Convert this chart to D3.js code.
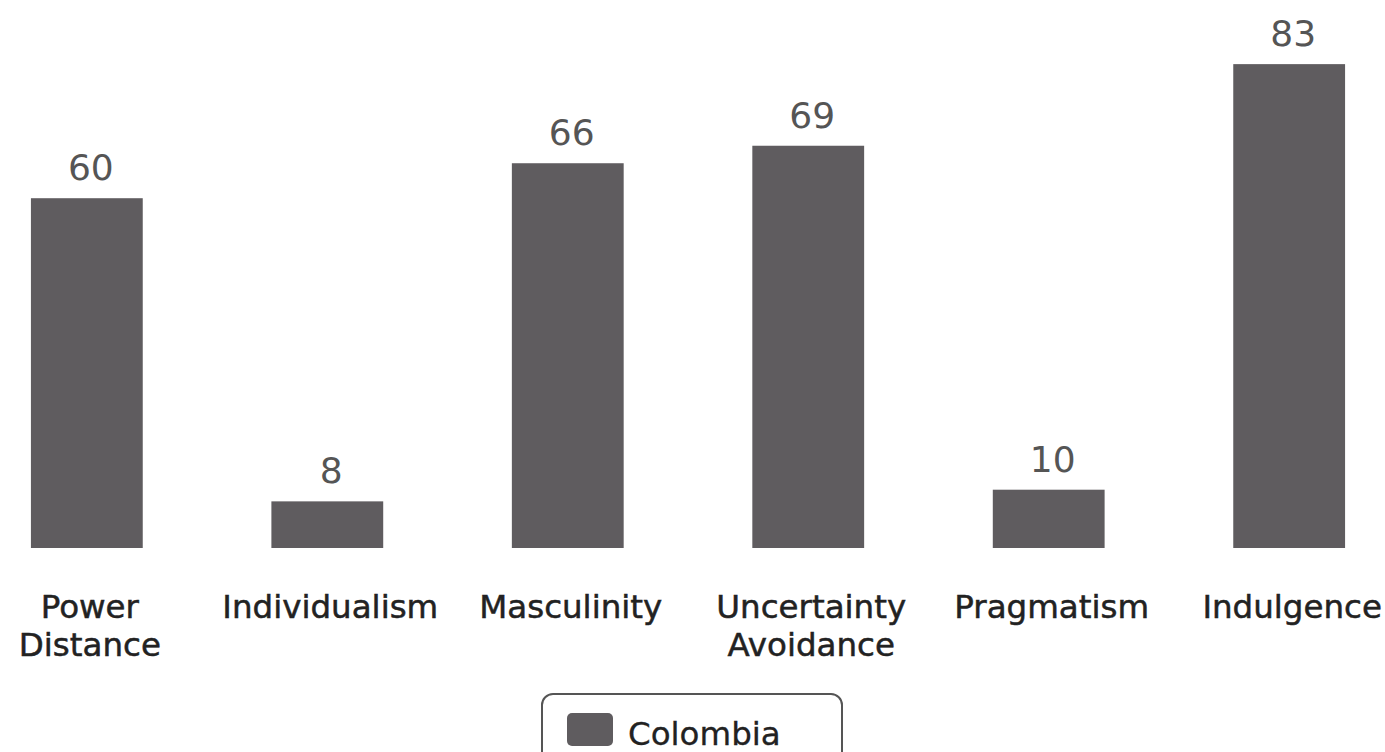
<!DOCTYPE html>
<html>
<head>
<meta charset="utf-8">
<script src="https://cdn.jsdelivr.net/npm/d3@7"></script>
<style>
  body { margin: 0; background: #fff; }
  svg { display: block; font-family: "DejaVu Sans", sans-serif; }
</style>
</head>
<body>
<script>
// data
var categories = ["Power Distance", "Individualism", "Masculinity", "Uncertainty Avoidance", "Pragmatism", "Indulgence"];
var labelLines = [["Power", "Distance"], ["Individualism"], ["Masculinity"], ["Uncertainty", "Avoidance"], ["Pragmatism"], ["Indulgence"]];
var colombia = [60, 8, 66, 69, 10, 83];
var seriesName = "Colombia";

var width = 1385, height = 752;

var svg = d3.select("body").append("svg")
    .attr("width", width)
    .attr("height", height);

var x = d3.scaleBand()
    .domain(categories)
    .range([-34, 1410])
    .paddingInner(0.535)
    .paddingOuter(0.27);

var y = d3.scaleLinear()
    .domain([0, 94])
    .range([548, 0]);

// bars
svg.selectAll(".bar")
    .data(colombia)
    .enter()
    .append("rect")
    .attr("class", "bar")
    .attr("x", function(d, i){ return x(categories[i]); })
    .attr("y", function(d){ return y(d); })
    .attr("width", x.bandwidth())
    .attr("height", function(d){ return y(0) - y(d); })
    .attr("fill", "#5f5c5f");

// value labels
svg.selectAll(".val")
    .data(colombia)
    .enter()
    .append("text")
    .attr("class", "val")
    .attr("x", function(d, i){ return x(categories[i]) + x.bandwidth() / 2 + 4; })
    .attr("y", function(d){ return y(d) - 18; })
    .attr("text-anchor", "middle")
    .attr("font-size", 36)
    .attr("fill", "#555")
    .text(function(d){ return d; });

// category labels
var cat = svg.selectAll(".cat")
    .data(categories)
    .enter()
    .append("text")
    .attr("class", "cat")
    .attr("text-anchor", "middle")
    .attr("font-size", 32.5)
    .attr("fill", "#222")
    .attr("stroke", "#222")
    .attr("stroke-width", 0.5)
    .attr("transform", function(d){ return "translate(" + (x(d) + x.bandwidth() / 2 + 3) + ",618)"; });

cat.selectAll("tspan")
    .data(function(d, i){ return labelLines[i]; })
    .enter()
    .append("tspan")
    .attr("x", 0)
    .attr("dy", function(d, i){ return i === 0 ? 0 : 38; })
    .text(function(d){ return d; });

// legend
var legend = svg.append("g").attr("class", "legend");
legend.append("rect")
    .attr("x", 542)
    .attr("y", 694)
    .attr("width", 300)
    .attr("height", 90)
    .attr("rx", 11)
    .attr("fill", "#fff")
    .attr("stroke", "#555")
    .attr("stroke-width", 2);
legend.append("rect")
    .attr("x", 567)
    .attr("y", 713)
    .attr("width", 46)
    .attr("height", 33)
    .attr("rx", 5)
    .attr("fill", "#5f5c5f");
legend.append("text")
    .attr("x", 628)
    .attr("y", 745)
    .attr("font-size", 32.5)
    .attr("fill", "#222")
    .attr("stroke", "#222")
    .attr("stroke-width", 0.3)
    .text(seriesName);
</script>
</body>
</html>
